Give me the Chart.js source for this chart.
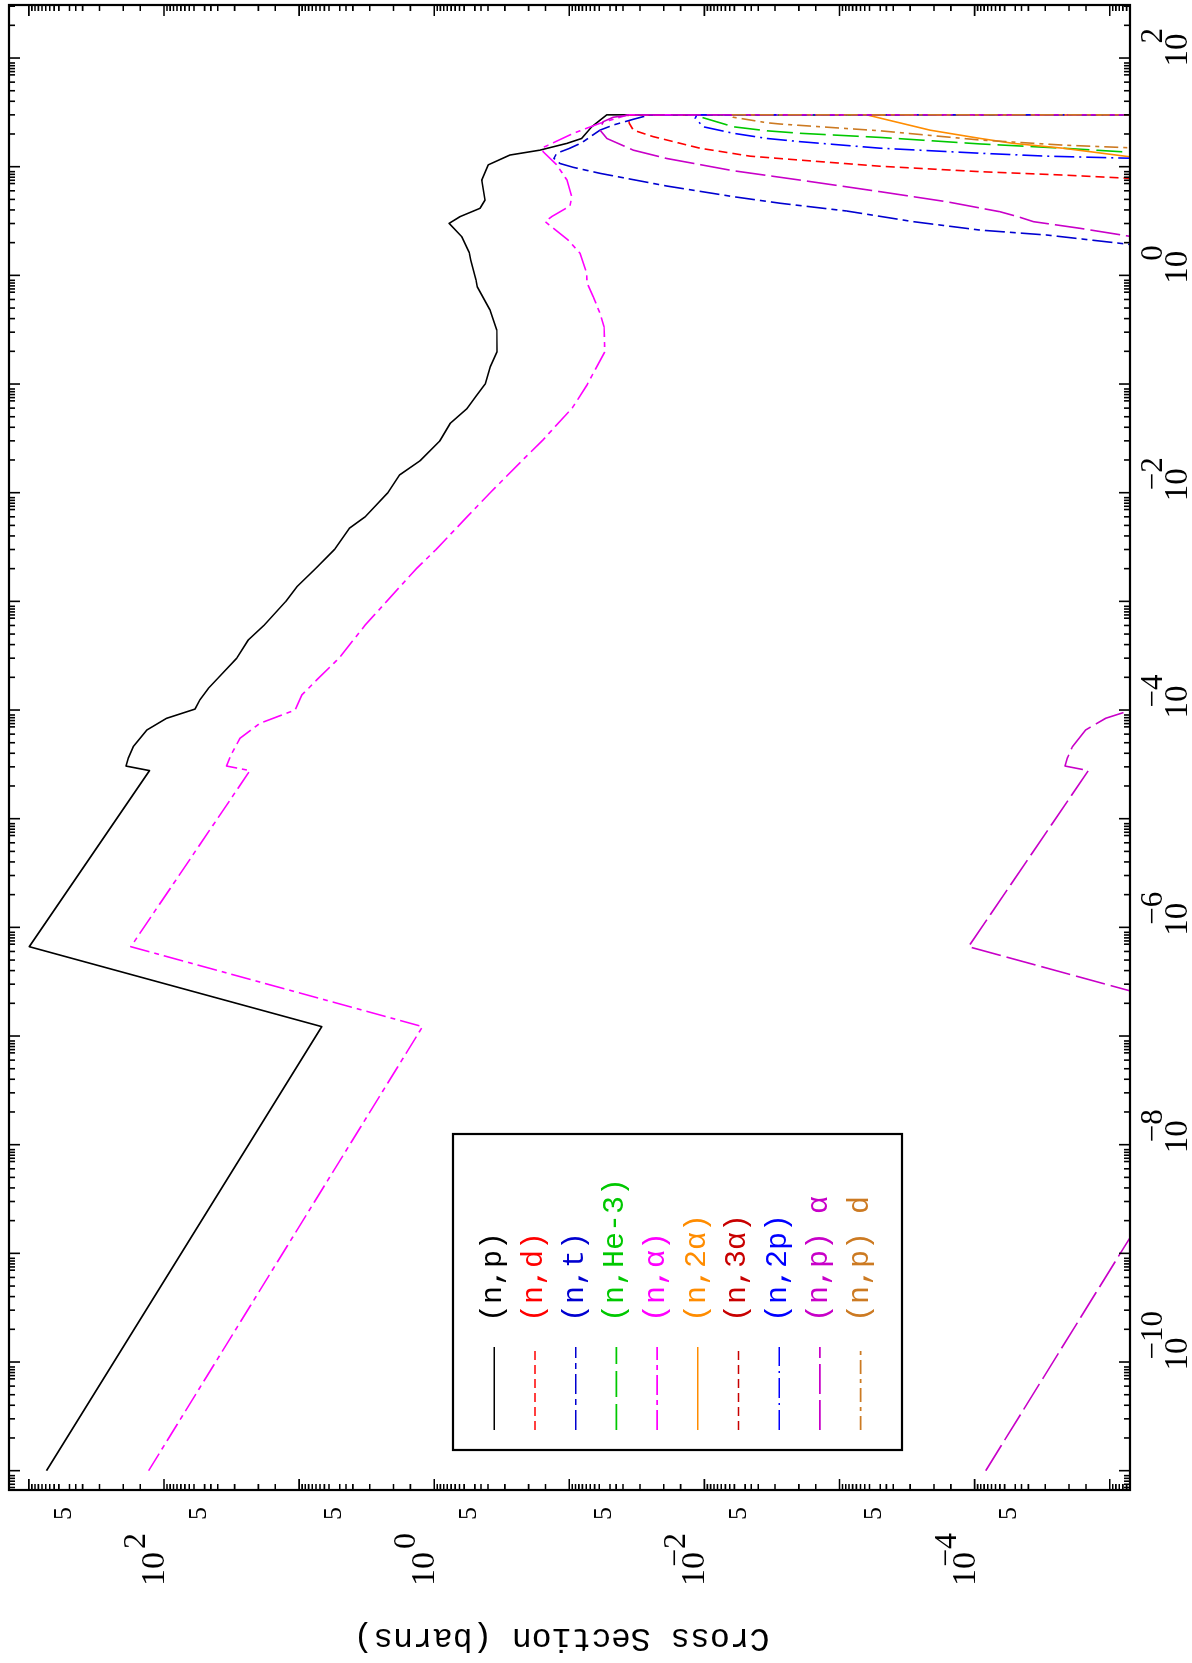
<!DOCTYPE html>
<html lang="en">
<head>
<meta charset="UTF-8">
<title>Cross Section (barns)</title>
<script src="https://cdn.jsdelivr.net/npm/chart.js"></script>
<style>
  html, body { margin: 0; padding: 0; background: #fff; overflow: hidden; }
  /* the plot is drawn landscape and turned a quarter turn to the left */
  #wrap {
    position: absolute; left: 0; top: 0;
    width: 1663px; height: 1192px;
    transform-origin: 0 0;
    transform: translate(0, 1663px) rotate(-90deg);
    background: #fff;
  }
</style>
</head>
<body>
<div id="wrap"><canvas id="xs" width="1663" height="1192"></canvas></div>
<script>
// Energies (MeV) and cross sections (barns)
const npE  = [1.0e-11, 1.22e-7, 6.64e-7, 2.77e-5, 3.05e-5, 3.60e-5, 4.59e-5, 6.55e-5, 8.40e-5, 1.02e-4,
              1.24e-4, 1.58e-4, 2.00e-4, 2.99e-4, 4.41e-4, 6.05e-4, 9.93e-4, 1.36e-3, 2.01e-3, 3.01e-3,
              4.70e-3, 6.01e-3, 1.00e-2, 1.46e-2, 1.97e-2, 2.99e-2, 4.35e-2, 5.97e-2, 7.64e-2, 0.100,
              0.144, 0.198, 0.314, 0.480, 0.785, 0.906, 1.38, 1.62, 2.27, 3.01,
              3.47, 4.14, 4.93, 7.53, 10.4, 12.8, 14.2, 16.4, 18.2, 23.3,
              30, 30];
const npXS = [740, 6.8, 993, 128, 191, 184, 169, 134, 95.5, 59,
              54.2, 47.0, 39.3, 29.0, 23.8, 18.1, 12.6, 10.4, 7.53, 5.46,
              4.25, 3.24, 2.20, 1.80, 1.27, 0.910, 0.760, 0.570, 0.494, 0.419,
              0.385, 0.343, 0.344, 0.386, 0.480, 0.491, 0.537, 0.550, 0.625, 0.776,
              0.644, 0.458, 0.421, 0.445, 0.398, 0.275, 0.165, 0.104, 0.081, 0.0682,
              0.0528, 1e-9];

const ndE  = [5.48, 7.73, 8.38, 9.00, 10.1, 11.5, 12.5, 14.8, 18.9, 21.7, 25.1, 30, 30];
const ndXS = [1e-9, 5.97e-6, 2.22e-5, 9.12e-5, 5.01e-4, 1.96e-3, 4.59e-3, 0.0108, 0.0239, 0.0336, 0.0360, 0.0368, 1e-9];

const ntE  = [0.73, 1.88, 2.35, 2.61, 3.12, 3.91, 4.61, 5.30, 6.64, 8.69,
              9.86, 10.7, 11.9, 13.3, 14.8, 16.6, 21.7, 24.2, 27.3, 30, 30];
const ntXS = [1e-9, 5.97e-6, 2.92e-5, 9.12e-5, 2.84e-4, 8.85e-4, 2.75e-3, 6.11e-3, 0.0190, 0.0593,
              0.0933, 0.117, 0.130, 0.124, 0.0989, 0.081, 0.0593, 0.0472, 0.0336, 0.0253, 1e-9];

const nhe3E  = [11.0, 13.4, 14.8, 16.2, 18.6, 20.3, 21.4, 23.3, 28.5, 30, 30];
const nhe3XS = [1e-9, 5.97e-6, 2.22e-5, 9.12e-5, 5.01e-4, 1.96e-3, 3.46e-3, 6.11e-3, 0.0105, 0.0108, 1e-9];

const naE  = [1.0e-11, 1.22e-7, 6.64e-7, 2.77e-5, 3.05e-5, 3.72e-5, 5.50e-5, 7.55e-5, 1.00e-4, 1.37e-4,
              1.89e-4, 2.99e-4, 6.05e-4, 9.93e-4, 2.01e-3, 2.97e-3, 6.01e-3, 1.00e-2, 1.97e-2, 3.05e-2,
              6.05e-2, 9.8e-2, 0.198, 0.337, 0.448, 0.635, 0.851, 1.05, 1.60, 2.11,
              3.12, 3.47, 4.35, 5.30, 7.53, 10.4, 13.7, 14.8, 20.3, 25.1,
              30, 30];
const naXS = [130, 1.22, 176, 23.1, 34.4, 32.4, 27.4, 19.5, 10.7, 9.57,
              7.41, 5.08, 3.24, 2.26, 1.35, 0.977, 0.570, 0.385, 0.224, 0.157,
              0.0948, 0.074, 0.0546, 0.0553, 0.0593, 0.0664, 0.074, 0.0743, 0.0834, 0.102,
              0.151, 0.135, 0.0989, 0.096, 0.104, 0.124, 0.156, 0.160, 0.0933, 0.0593,
              0.0368, 1e-9];

const n2aE  = [8.4, 12.0, 14.8, 16.4, 18.2, 21.7, 30, 30];
const n2aXS = [1e-9, 5.97e-6, 2.22e-5, 5.20e-5, 9.12e-5, 2.14e-4, 6.30e-4, 1e-9];

const n3aE  = [18.0, 24.0, 30, 30];
const n3aXS = [1e-9, 1.0e-6, 2.0e-6, 1e-9];

const n2pE  = [9.3, 11.9, 12.5, 13.3, 14.8, 17.0, 18.2, 20.3, 23.3, 27.9, 30, 30];
const n2pXS = [1e-9, 5.97e-6, 2.92e-5, 9.12e-5, 5.01e-4, 1.96e-3, 3.46e-3, 6.11e-3, 0.0102, 0.0117, 0.0114, 1e-9];

const npaE  = [1.0e-11, 1.22e-7, 6.64e-7, 2.77e-5, 3.05e-5, 3.60e-5, 4.59e-5, 6.55e-5, 8.40e-5, 1.02e-4,
               1.24e-4, 1.54, 2.21, 2.71, 3.12, 3.42, 3.85, 4.76, 5.89, 7.53,
               9.18, 11.9, 14.2, 18.2, 21.7, 25.9, 28.5, 30, 30];
const npaXS = [8.28e-5, 7.62e-7, 1.11e-4, 1.44e-5, 2.14e-5, 2.06e-5, 1.89e-5, 1.51e-5, 1.07e-5, 6.6e-6,
               6.07e-6, 1e-9, 5.97e-6, 1.66e-5, 3.67e-5, 4.61e-5, 6.49e-5, 1.61e-4, 5.01e-4, 1.96e-3,
               6.11e-3, 0.0190, 0.0336, 0.0528, 0.0593, 0.0563, 0.0474, 0.0356, 1e-9];

const npdE  = [12.0, 14.8, 15.8, 17.6, 21.4, 24.7, 25.4, 28.5, 30, 30];
const npdXS = [1e-9, 5.97e-6, 2.22e-5, 9.12e-5, 5.01e-4, 2.75e-3, 3.46e-3, 6.11e-3, 6.46e-3, 1e-9];

const labels = ['(n,p)', '(n,d)', '(n,t)', '(n,He-3)', '(n,\u03b1)', '(n,2\u03b1)', '(n,3\u03b1)', '(n,2p)', '(n,p) \u03b1', '(n,p) d'];

// axis limits and tick labels
const eRange  = [6.64e-12, 307.6];
const xsRange = [7.08e-6, 1403];
const eLabelExp  = [-10, -8, -6, -4, -2, 0, 2];
const xsLabelExp = [2, 0, -2, -4];
const xsFiveExp  = [2, 1, 0, -1, -2, -3, -4, -5];
const eMinor  = [2, 3, 4, 5, 6, 7, 7.5, 8, 8.5, 9];
const xsMinor = [1.5, 2, 3, 4, 4.5, 5, 6, 6.5, 7, 7.5, 8, 8.5, 9, 9.5];

const colors = ['#000000', '#ff0000', '#0000d0', '#00c800', '#ff00ff', '#ff8c00', '#c80000', '#0000ff', '#c800c8', '#cc7a22'];
const dashes = [[], [9, 5], [20, 5, 6, 5], [26, 7], [20, 5, 5, 5], [], [9, 5], [20, 5, 2, 5], [30, 6], [14, 5, 4, 5]];

const series = [
  [npE, npXS], [ndE, ndXS], [ntE, ntXS], [nhe3E, nhe3XS], [naE, naXS],
  [n2aE, n2aXS], [n3aE, n3aXS], [n2pE, n2pXS], [npaE, npaXS], [npdE, npdXS]
];

const datasets = series.map((s, i) => ({
  label: labels[i],
  data: s[0].map((e, j) => ({ x: e, y: s[1][j] })),
  borderColor: colors[i],
  backgroundColor: colors[i],
  borderDash: dashes[i],
  borderWidth: 1.6,
  borderJoinStyle: 'round',
  pointRadius: 0,
  tension: 0,
  fill: false,
  order: series.length - i
}));

// frame, inward ticks, labels and legend in the old plotting style
const pgFrame = {
  id: 'pgFrame',
  afterDatasetsDraw(chart) {
    const { ctx, chartArea: a, scales: { x, y } } = chart;
    ctx.save();
    ctx.setLineDash([]);
    ctx.strokeStyle = '#000';
    ctx.lineWidth = 1.6;

    function tickX(val, len) {
      const p = x.getPixelForValue(val);
      if (p < a.left + 1 || p > a.right - 1) return;
      ctx.beginPath();
      ctx.moveTo(p, a.bottom); ctx.lineTo(p, a.bottom - len);
      ctx.moveTo(p, a.top); ctx.lineTo(p, a.top + len);
      ctx.stroke();
    }
    function tickY(val, len) {
      const p = y.getPixelForValue(val);
      if (p < a.top + 1 || p > a.bottom - 1) return;
      ctx.beginPath();
      ctx.moveTo(a.left, p); ctx.lineTo(a.left + len, p);
      ctx.moveTo(a.right, p); ctx.lineTo(a.right - len, p);
      ctx.stroke();
    }
    for (let d = -12; d <= 2; d++) {
      tickX(Math.pow(10, d), 11);
      eMinor.forEach(m => tickX(m * Math.pow(10, d), 6));
    }
    for (let d = -6; d <= 3; d++) {
      tickY(Math.pow(10, d), 11);
      xsMinor.forEach(m => tickY(m * Math.pow(10, d), 6));
    }

    ctx.lineWidth = 2.2;
    ctx.strokeRect(a.left, a.top, a.right - a.left, a.bottom - a.top);

    // energy labels
    ctx.fillStyle = '#000';
    eLabelExp.forEach(n => {
      const p = x.getPixelForValue(Math.pow(10, n));
      ctx.font = '33px "Liberation Serif"';
      ctx.textAlign = 'center';
      ctx.textBaseline = 'alphabetic';
      const w = ctx.measureText('10').width;
      ctx.fillText('10', p + 8, a.bottom + 57);
      ctx.font = '31px "Liberation Serif"';
      ctx.textAlign = 'left';
      const sup = n < 0 ? '\u2212' + (-n) : String(n);
      ctx.fillText(sup, p + 8 + w / 2 - (n < 0 ? 22 : 10), a.bottom + 32);
    });

    // cross section labels
    xsLabelExp.forEach(n => {
      const p = y.getPixelForValue(Math.pow(10, n));
      ctx.font = '34px "Liberation Serif"';
      ctx.textAlign = 'right';
      ctx.textBaseline = 'alphabetic';
      ctx.fillText('10', a.left - 62, p);
      ctx.font = '32px "Liberation Serif"';
      const sup = n < 0 ? '\u2212' + (-n) : String(n);
      ctx.fillText(sup, a.left - 43, p - 19);
    });
    ctx.font = '26px "Liberation Serif"';
    xsFiveExp.forEach(n => {
      const p = y.getPixelForValue(5 * Math.pow(10, n));
      ctx.textAlign = 'right';
      ctx.fillText('5', a.left - 17, p + 1);
    });

    // axis title
    ctx.save();
    ctx.translate(34, (a.top + a.bottom) / 2 - 8);
    ctx.rotate(-Math.PI / 2);
    ctx.font = '33px "Liberation Mono"';
    ctx.textAlign = 'center';
    ctx.textBaseline = 'alphabetic';
    ctx.fillText('Cross Section (barns)', 0, 0);
    ctx.restore();

    // legend box
    ctx.lineWidth = 2.2;
    ctx.strokeStyle = '#000';
    ctx.strokeRect(213, 453, 316, 449);
    chart.data.datasets.forEach((ds, i) => {
      const v = 494.3 + i * 40.7;
      ctx.strokeStyle = ds.borderColor;
      ctx.lineWidth = 1.6;
      ctx.setLineDash(ds.borderDash);
      ctx.beginPath();
      ctx.moveTo(233, v); ctx.lineTo(316, v);
      ctx.stroke();
      ctx.setLineDash([]);
      ctx.fillStyle = ds.borderColor;
      ctx.font = '30px "Liberation Mono"';
      ctx.textAlign = 'left';
      ctx.textBaseline = 'middle';
      ctx.fillText(ds.label, 341, v - 1);
    });
    ctx.restore();
  }
};

new Chart(document.getElementById('xs'), {
  type: 'line',
  data: { datasets: datasets },
  options: {
    responsive: false,
    animation: false,
    events: [],
    layout: { padding: { top: 9, right: 5, bottom: 0, left: 0 } },
    plugins: { legend: { display: false }, tooltip: { enabled: false } },
    scales: {
      x: {
        type: 'logarithmic', min: eRange[0], max: eRange[1],
        ticks: { display: false }, grid: { display: false }, border: { display: false },
        afterFit: s => { s.height = 62; }
      },
      y: {
        type: 'logarithmic', min: xsRange[0], max: xsRange[1],
        ticks: { display: false }, grid: { display: false }, border: { display: false },
        afterFit: s => { s.width = 173; }
      }
    }
  },
  plugins: [pgFrame]
});
</script>
</body>
</html>
